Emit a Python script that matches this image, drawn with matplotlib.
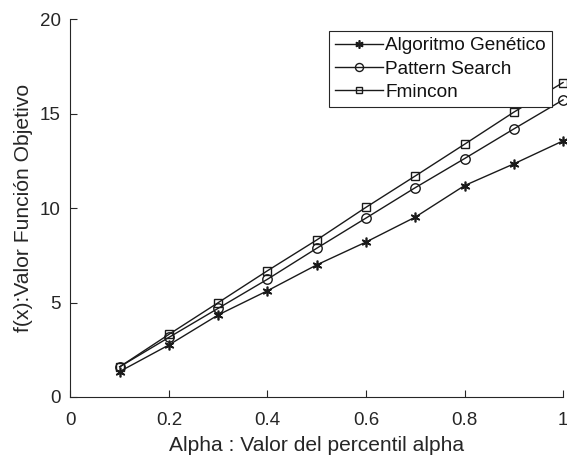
import matplotlib
matplotlib.use("Agg")
import matplotlib.pyplot as plt

plt.rcParams['font.family'] = ['Liberation Sans', 'DejaVu Sans']

alpha = [0.1, 0.2, 0.3, 0.4, 0.5, 0.6, 0.7, 0.8, 0.9, 1.0]
genetico = [1.35, 2.76, 4.35, 5.63, 7.0, 8.21, 9.53, 11.2, 12.35, 13.57]
pattern = [1.6, 3.16, 4.7, 6.24, 7.88, 9.48, 11.09, 12.63, 14.2, 15.74]
fmincon = [1.6, 3.32, 5.0, 6.69, 8.32, 10.05, 11.71, 13.39, 15.09, 16.66]

xticks = [0, 0.2, 0.4, 0.6, 0.8, 1]
xticklabels = ['0', '0.2', '0.4', '0.6', '0.8', '1']
yticks = [0, 5, 10, 15, 20]

ink = '#262626'
line_c = '#1a1a1a'

fig = plt.figure(figsize=(5.67, 4.62), dpi=100)
ax = fig.add_axes([0.1243, 0.1407, 0.8687, 0.8171])

asterisk = (6, 2, 0)
ax.plot(alpha, genetico, color=line_c, lw=1.0, marker=asterisk, ms=7,
        mec=line_c, mew=1.2, label='Algoritmo Genético', clip_on=False)
ax.plot(alpha, pattern, color=line_c, lw=1.0, marker='o', ms=6.8,
        mfc='none', mec=line_c, mew=1.0, label='Pattern Search', clip_on=False)
ax.plot(alpha, fmincon, color=line_c, lw=1.0, marker='s', ms=5.6,
        mfc='none', mec=line_c, mew=1.0, label='Fmincon', clip_on=False)

ax.set_xlim(0, 1)
ax.set_ylim(0, 20)
ax.set_xticks(xticks)
ax.set_xticklabels(xticklabels)
ax.set_yticks(yticks)

for side in ['top', 'right']:
    ax.spines[side].set_visible(False)
for side in ['left', 'bottom']:
    ax.spines[side].set_color(ink)
    ax.spines[side].set_linewidth(0.8)

ax.tick_params(direction='in', length=5, width=0.8, color=ink,
               labelcolor=ink, labelsize=13.5)
ax.tick_params(axis='x', pad=11)
ax.tick_params(axis='y', pad=7)

ax.set_xlabel('Alpha : Valor del percentil alpha', fontsize=15.1, color=ink, labelpad=5)
ax.set_ylabel('f(x):Valor Función Objetivo', fontsize=15.2, color=ink, labelpad=5)

leg = ax.legend(loc='upper right', bbox_to_anchor=(0.977, 0.969), fontsize=13.7,
                frameon=True, fancybox=False, edgecolor=ink, framealpha=1,
                handlelength=2.5, handletextpad=0.15, borderpad=0.3,
                labelspacing=0.32, borderaxespad=0, markerscale=0.85)
leg.get_frame().set_linewidth(0.8)
for t in leg.get_texts():
    t.set_color('#111111')

fig.savefig('out.png', dpi=100)
